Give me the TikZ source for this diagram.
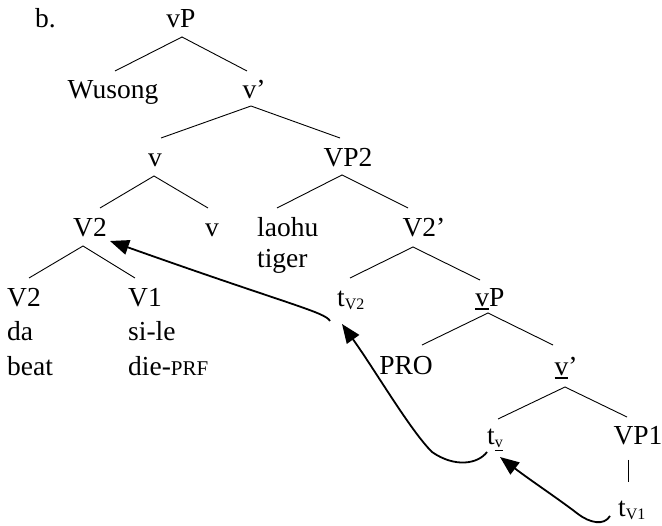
\documentclass[tikz,border=0pt]{standalone}
\usepackage{fontspec}
\setmainfont{Liberation Serif}
\usetikzlibrary{calc,arrows.meta}
\newsavebox\ulbox
\newcommand\ulv[2]{\sbox\ulbox{#2}\rlap{\rule[-3pt]{\wd\ulbox}{#1}}\usebox\ulbox}
\newcommand\subsz{\fontsize{16}{16}\selectfont}
\newcommand\tsub[1]{t\raisebox{-3pt}{\subsz #1}}
\tikzset{
  lab/.style={inner sep=0pt,anchor=base,font=\fontsize{27.5}{30}\selectfont},
  labw/.style={lab,anchor=base west},
  branch/.style={line width=0.9pt},
  move/.style={line width=1.8pt,-{Triangle[length=19pt,width=15pt]}}
}
\begin{document}
\begin{tikzpicture}[x=1pt,y=-1pt]
\useasboundingbox (0,0) rectangle (662,526);
% nodes
\node[labw] (b) at (35,28) {b.};
\node[lab] (vP) at (181,28) {vP};
\node[lab] (Wu) at (113,99) {Wusong};
\node[lab] (vb1) at (254,99) {v’};
\node[lab] (v1) at (155,167) {v};
\node[lab] (VP2) at (348,167) {VP2};
\node[lab] (V2) at (90,237) {V2};
\node[lab] (v2) at (212,237) {v};
\node[labw] (lao) at (257,237) {laohu};
\node[labw] (tig) at (257,268) {tiger};
\node[lab] (V2p) at (424,237) {V2’};
\node[labw] (V2a) at (7,307) {V2};
\node[labw] (da) at (7,341) {da};
\node[labw] (beat) at (7,376) {beat};
\node[labw] (V1) at (128,307) {V1};
\node[labw] (sile) at (128,341) {si-le};
\node[labw] (die) at (128,376) {die-{\fontsize{21}{21}\selectfont PRF}};
\node[labw] (tV2) at (337,307) {\tsub{V2}};
\node[lab] (vP2) at (490,307) {\ulv{1.8pt}{v}P};
\node[lab] (PRO) at (406,375) {PRO};
\node[lab] (vb2) at (566,376) {\ulv{1.8pt}{v}’};
\node[labw] (tv) at (487,445) {\tsub{\ulv{1.2pt}{v}}};
\node[lab] (VP1) at (638,445) {VP1};
\node[labw] (tV1) at (618,517) {\tsub{V1}};
% branches
\draw[branch] ($(Wu.base)+(2,-28)$) -- ($(vP.base)+(1,9)$) -- ($(vb1.base)+(-7,-28)$);
\draw[branch] ($(v1.base)+(6,-29)$) -- ($(vb1.base)+(-3,7)$) -- ($(VP2.base)+(-8,-29)$);
\draw[branch] ($(V2.base)+(10,-29)$) -- ($(v1.base)+(-1,9)$) -- ($(v2.base)+(-4,-29)$);
\draw[branch] ($(lao.base west)+(20,-29)$) -- ($(VP2.base)+(-6,8)$) -- ($(V2p.base)+(-16,-29)$);
\draw[branch] ($(V2a.base west)+(22,-29)$) -- ($(V2.base)+(-7,9)$) -- ($(V1.base west)+(7,-29)$);
\draw[branch] ($(tV2.base west)+(13,-29)$) -- ($(V2p.base)+(-11,10)$) -- ($(vP2.base)+(-10,-27)$);
\draw[branch] ($(PRO.base)+(16,-30)$) -- ($(vP2.base)+(-2,6)$) -- ($(vb2.base)+(-13,-31)$);
\draw[branch] ($(tv.base west)+(11,-26)$) -- ($(vb2.base)+(-1,11)$) -- ($(VP1.base)+(-11,-28)$);
\draw[branch] ($(VP1.base)+(-10,15)$) -- ($(tV1.base west)+(10,-35)$);
% movement arrows
\draw[move] ($(tV2.base west)+(-7,14)$) .. controls ($(tV2.base west)+(-12,5)$) and ($(tV2.base west)+(-47,-2)$) .. ($(V2.base)+(20,4)$);
\draw[move] ($(tv.base west)+(0,7)$) .. controls ($(tv.base west)+(-9,19)$) and ($(tv.base west)+(-32,23)$) .. ($(tv.base west)+(-55,7)$)
  .. controls ($(tv.base west)+(-77,-15)$) and ($(tV2.base west)+(38,63)$) .. ($(tV2.base west)+(5,17)$);
\draw[move] ($(tV1.base west)+(-8,-1)$) .. controls ($(tV1.base west)+(-14,9)$) and ($(tV1.base west)+(-28,6)$) .. ($(tV1.base west)+(-40,-3)$)
  .. controls ($(tV1.base west)+(-58,-17)$) and ($(tv.base west)+(43,35)$) .. ($(tv.base west)+(13,12)$);
\end{tikzpicture}
\end{document}
